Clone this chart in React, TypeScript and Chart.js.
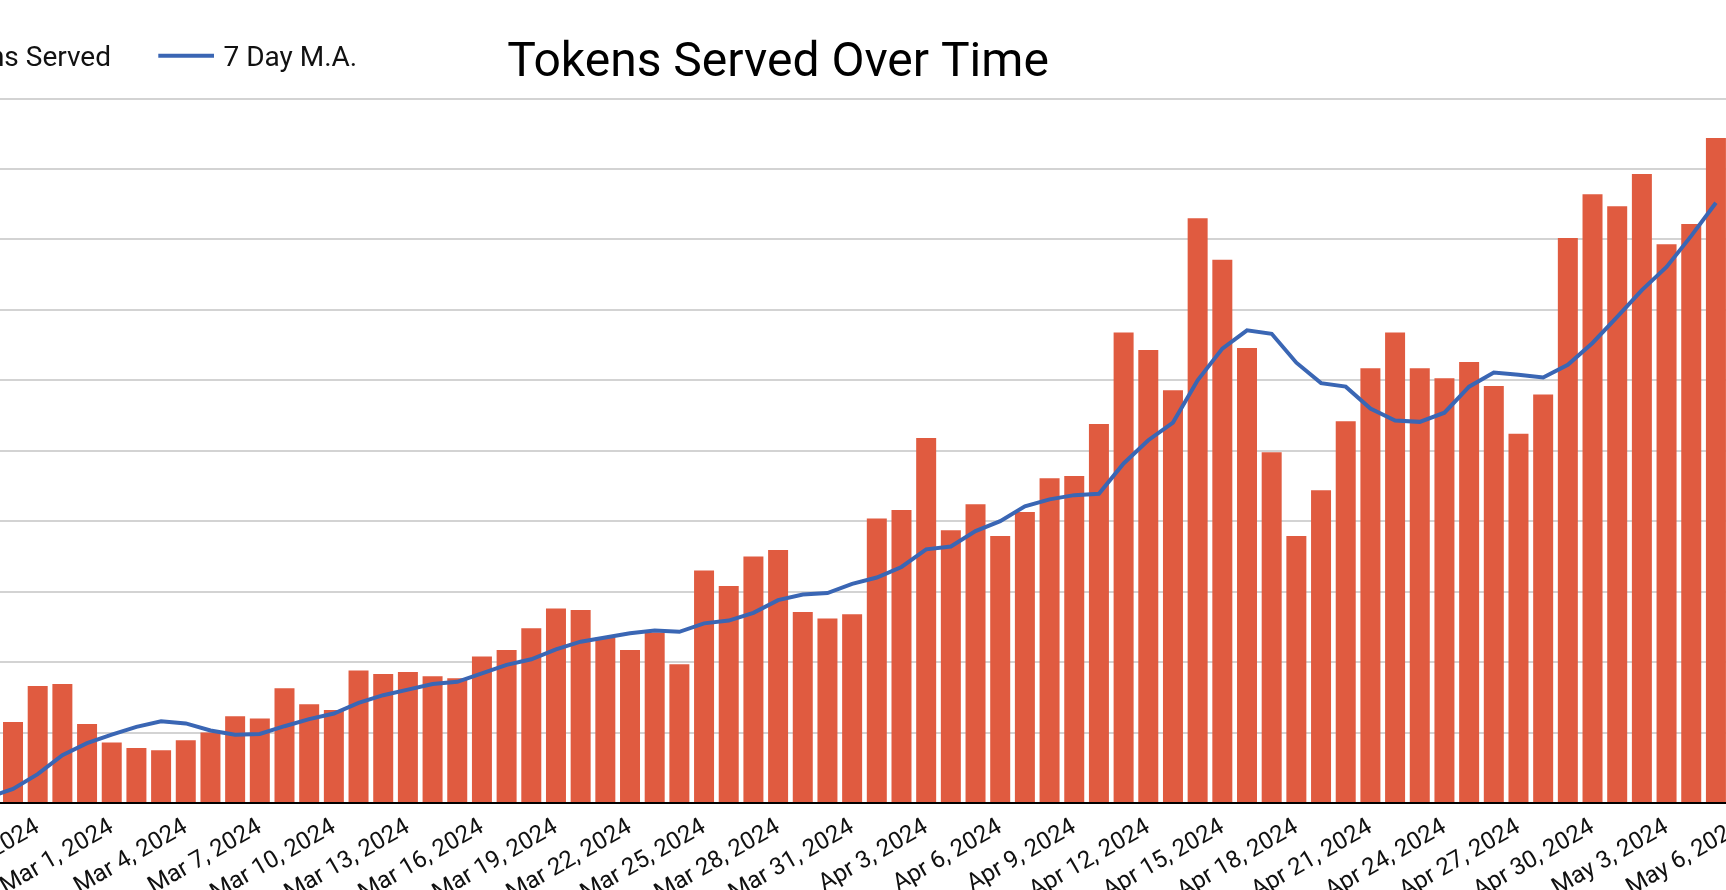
import { useEffect, useRef } from "react";
import { Chart, registerables } from "chart.js";
import type { Plugin } from "chart.js";

Chart.register(...registerables);
Chart.defaults.font.family = "Roboto";

const TITLE = "Tokens Served Over Time";

const categories = [
  "Feb 25, 2024", "Feb 26, 2024", "Feb 27, 2024", "Feb 28, 2024", "Feb 29, 2024",
  "Mar 1, 2024", "Mar 2, 2024", "Mar 3, 2024", "Mar 4, 2024", "Mar 5, 2024",
  "Mar 6, 2024", "Mar 7, 2024", "Mar 8, 2024", "Mar 9, 2024", "Mar 10, 2024",
  "Mar 11, 2024", "Mar 12, 2024", "Mar 13, 2024", "Mar 14, 2024", "Mar 15, 2024",
  "Mar 16, 2024", "Mar 17, 2024", "Mar 18, 2024", "Mar 19, 2024", "Mar 20, 2024",
  "Mar 21, 2024", "Mar 22, 2024", "Mar 23, 2024", "Mar 24, 2024", "Mar 25, 2024",
  "Mar 26, 2024", "Mar 27, 2024", "Mar 28, 2024", "Mar 29, 2024", "Mar 30, 2024",
  "Mar 31, 2024", "Apr 1, 2024", "Apr 2, 2024", "Apr 3, 2024", "Apr 4, 2024",
  "Apr 5, 2024", "Apr 6, 2024", "Apr 7, 2024", "Apr 8, 2024", "Apr 9, 2024",
  "Apr 10, 2024", "Apr 11, 2024", "Apr 12, 2024", "Apr 13, 2024", "Apr 14, 2024",
  "Apr 15, 2024", "Apr 16, 2024", "Apr 17, 2024", "Apr 18, 2024", "Apr 19, 2024",
  "Apr 20, 2024", "Apr 21, 2024", "Apr 22, 2024", "Apr 23, 2024", "Apr 24, 2024",
  "Apr 25, 2024", "Apr 26, 2024", "Apr 27, 2024", "Apr 28, 2024", "Apr 29, 2024",
  "Apr 30, 2024", "May 1, 2024", "May 2, 2024", "May 3, 2024", "May 4, 2024",
  "May 5, 2024", "May 6, 2024",
];

// daily tokens served (relative units)
const tokensServed = [
  null, 11.5, 16.6, 16.9, 11.2,
  8.6, 7.8, 7.5, 8.9, 10.0,
  12.3, 12.0, 16.3, 14.0, 13.2,
  18.8, 18.3, 18.6, 18.0, 17.7,
  20.8, 21.7, 24.8, 27.6, 27.4,
  23.5, 21.7, 24.2, 19.7, 33.0,
  30.8, 35.0, 35.9, 27.1, 26.2,
  26.8, 40.4, 41.6, 51.8, 38.7,
  42.4, 37.9, 41.3, 46.1, 46.4,
  53.8, 66.8, 64.3, 58.6, 83.0,
  77.1, 64.6, 49.8, 37.9, 44.4,
  54.2, 61.7, 66.8, 61.7, 60.3,
  62.6, 59.2, 52.4, 58.0, 80.2,
  86.4, 84.7, 89.3, 79.3, 82.2,
  94.4, null,
];

const movingAverage = [
  0.8, 2.0, 4.1, 6.8, 8.5,
  9.7, 10.8, 11.6, 11.3, 10.3,
  9.7, 9.8, 10.9, 11.9, 12.7,
  14.2, 15.3, 16.1, 16.9, 17.2,
  18.4, 19.6, 20.4, 21.8, 22.9,
  23.5, 24.1, 24.5, 24.3, 25.5,
  25.9, 27.0, 28.8, 29.6, 29.8,
  31.1, 32.0, 33.5, 36.0, 36.4,
  38.6, 40.0, 42.1, 43.1, 43.7,
  43.9, 48.2, 51.5, 54.0, 60.0,
  64.5, 67.1, 66.6, 62.5, 59.6,
  59.1, 56.0, 54.3, 54.1, 55.4,
  59.1, 61.1, 60.8, 60.4, 62.2,
  65.3, 69.0, 72.8, 76.1, 80.5,
  85.2, null,
];

const BAR_COLOR = "#e05b40";
const LINE_COLOR = "#3a66b4";
const TEXT_COLOR = "#111";

// the picture is a crop of a wider chart, so the canvas hangs off the left edge
const CANVAS_LEFT = -191;
const CANVAS_WIDTH = 1956;
const CANVAS_HEIGHT = 893;
const PLOT_TOP = 98.5;

// legend sits on the same row as the title, so both are drawn here
const header: Plugin<"bar"> = {
  id: "header",
  afterDraw(chart) {
    const { ctx } = chart;
    const [bars, line] = chart.data.datasets;
    const baseline = 65.7;
    const lineY = 55.7;
    const sampleX = 158.3 - CANVAS_LEFT;

    ctx.save();
    ctx.font = "28px Roboto";
    ctx.textBaseline = "alphabetic";

    // Tokens Served: swatch + label, ending 48px before the line sample
    ctx.fillStyle = TEXT_COLOR;
    ctx.textAlign = "right";
    const firstEnd = sampleX - 47.3;
    ctx.fillText(bars.label ?? "", firstEnd, baseline);
    const firstWidth = ctx.measureText(bars.label ?? "").width;
    ctx.fillStyle = BAR_COLOR;
    ctx.fillRect(firstEnd - firstWidth - 12 - 28, lineY - 14, 28, 28);

    // 7 Day M.A.: line sample + label
    ctx.strokeStyle = LINE_COLOR;
    ctx.lineWidth = 4;
    ctx.beginPath();
    ctx.moveTo(sampleX, lineY);
    ctx.lineTo(sampleX + 55.7, lineY);
    ctx.stroke();
    ctx.fillStyle = TEXT_COLOR;
    ctx.textAlign = "left";
    ctx.fillText(line.label ?? "", sampleX + 65.2, baseline);

    ctx.font = "48px Roboto";
    ctx.fillStyle = "#000";
    ctx.textAlign = "center";
    ctx.fillText(TITLE, 778 - CANVAS_LEFT, 75.7);
    ctx.restore();
  },
};

function TokensChart() {
  const canvasRef = useRef<HTMLCanvasElement | null>(null);

  useEffect(() => {
    if (!canvasRef.current) return;

    const chart = new Chart(canvasRef.current, {
      type: "bar",
      data: {
        labels: categories,
        datasets: [
          {
            type: "bar",
            label: "Tokens Served",
            data: tokensServed,
            backgroundColor: BAR_COLOR,
            barPercentage: 0.81,
            categoryPercentage: 1,
            order: 1,
          },
          {
            type: "line",
            label: "7 Day M.A.",
            data: movingAverage,
            borderColor: LINE_COLOR,
            backgroundColor: LINE_COLOR,
            borderWidth: 4,
            pointRadius: 0,
            pointHoverRadius: 0,
            tension: 0,
            order: 0,
          },
        ] as any,
      },
      options: {
        responsive: false,
        animation: false,
        layout: { padding: { top: PLOT_TOP } },
        plugins: {
          title: { display: false },
          legend: { display: false },
        },
        scales: {
          x: {
            grid: { display: false, drawTicks: false },
            border: { color: "#000", width: 2, z: 1 },
            ticks: {
              autoSkip: false,
              minRotation: 30,
              maxRotation: 30,
              padding: 10,
              color: TEXT_COLOR,
              font: { size: 24 },
              callback: (_value, index) => (index % 3 === 2 ? categories[index] : ""),
            },
            afterFit: (axis) => {
              axis.height = 90;
            },
          },
          y: {
            min: 0,
            max: 100,
            ticks: { display: false, stepSize: 10 },
            grid: { color: "#d3d3d3", lineWidth: 2, drawTicks: false },
            border: { display: false },
            afterFit: (axis) => {
              axis.width = 167;
            },
          },
        },
      },
      plugins: [header],
    });

    return () => chart.destroy();
  }, []);

  return (
    <canvas
      ref={canvasRef}
      width={CANVAS_WIDTH}
      height={CANVAS_HEIGHT}
      style={{ position: "absolute", left: CANVAS_LEFT, top: 0 }}
      aria-label={TITLE}
    />
  );
}

export default function App() {
  return (
    <div
      style={{
        position: "absolute",
        left: 0,
        top: 0,
        width: 1726,
        height: 890,
        overflow: "hidden",
        background: "#fff",
      }}
    >
      <TokensChart />
    </div>
  );
}
